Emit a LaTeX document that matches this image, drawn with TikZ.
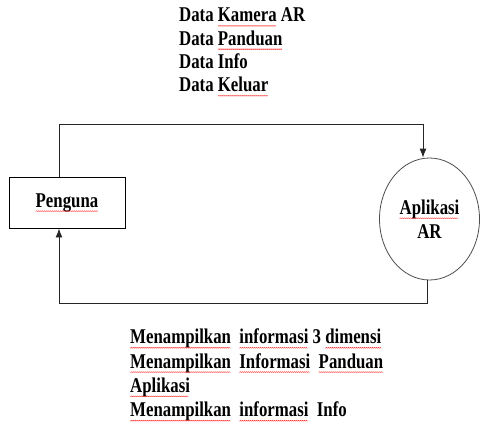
\documentclass[tikz,border=0pt]{standalone}
\usepackage{fontspec}
\setmainfont{Liberation Serif}[FakeStretch=0.8]
\usetikzlibrary{positioning, shapes.geometric, arrows.meta}
\tikzstyle{arrow} = [line width=0.9pt, draw=black!85, -{Latex[length=9pt,width=7pt]}]
\newsavebox\gelombang
\sbox\gelombang{\tikz{\useasboundingbox (0,0) rectangle (2pt,1pt); \draw[red!85, line width=0.4pt] (0,0) -- (1pt,1pt) -- (2pt,0);}}
\newsavebox\katabox
\newcommand\salah[1]{\sbox\katabox{#1}\rlap{\usebox\katabox}\raisebox{-4.5pt}{\leaders\copy\gelombang\hskip\wd\katabox}}

\begin{document}
\begin{tikzpicture}[x=1pt, y=-1pt, font=\fontsize{21}{23.3}\selectfont\bfseries]
        \useasboundingbox (0,0) rectangle (480,426);
        \node [draw, line width=0.9pt, minimum width=116pt, minimum height=51pt] (penguna) at (67,202.5) {\salah{Penguna}};
        \node [draw=black!70, line width=0.8pt, ellipse, minimum width=100pt, minimum height=122pt, inner sep=0pt, align=center] (aplikasi) at (429.5,219) {\salah{Aplikasi}\\[0.7pt]AR};
        \node [anchor=north west, inner sep=0pt, align=left] (datamasuk) at (179,7.8) {Data \salah{Kamera} AR\\Data \salah{Panduan}\\Data Info\\Data \salah{Keluar}};
        \node [anchor=north west, inner sep=0pt, align=left] (dataluar) at (130,328.8) {\salah{Menampilkan}\ \ \salah{informasi}\ 3 \salah{dimensi}\\[1pt]\salah{Menampilkan}\ \ \salah{Informasi}\ \ \salah{Panduan}\\[1pt]\salah{Aplikasi}\\[1pt]\salah{Menampilkan}\ \ \salah{informasi}\ \ Info};
        \coordinate (atas) at (59,124);
        \coordinate (bawah) at (59,303);
        \draw [arrow] (penguna.north -| atas) -- (atas) -| ([xshift=-6.5pt]aplikasi.north);
        \draw [arrow] ([xshift=-2.5pt]aplikasi.south) |- (bawah) -- (penguna.south -| bawah);
\end{tikzpicture}
\end{document}
